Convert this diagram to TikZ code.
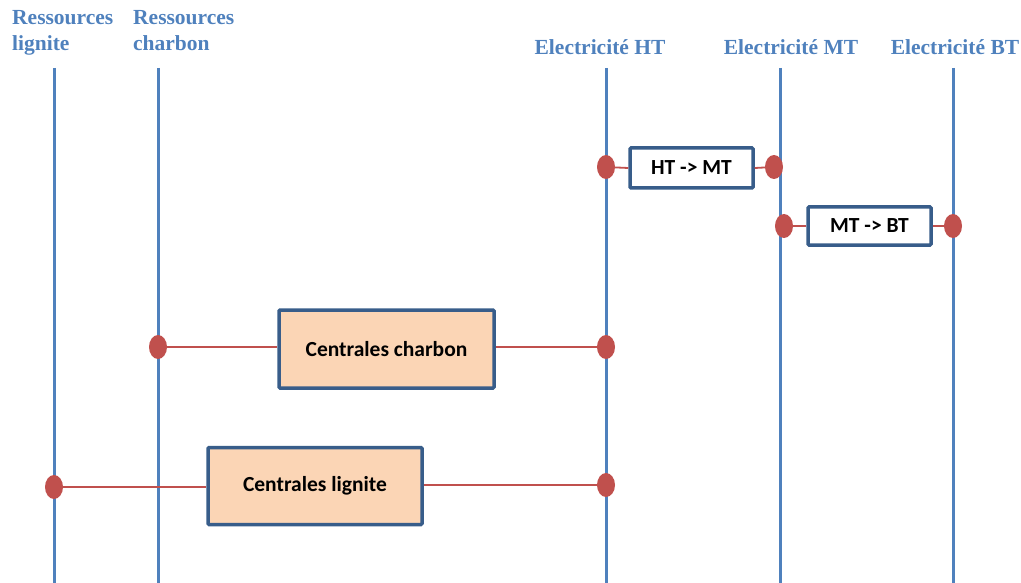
\documentclass[tikz,border=0pt]{standalone}
\usepackage{fontspec}
\setmainfont{Liberation Serif}
\newfontfamily\boxfont{Carlito}
\usetikzlibrary{positioning, shapes.geometric}
\definecolor{busblue}{HTML}{4F81BD}
\definecolor{framblue}{HTML}{385D8A}
\definecolor{dotred}{HTML}{C0504D}
\definecolor{peach}{HTML}{FBD5B5}
\tikzset{
    bus/.style={busblue, line width=3pt},
    link/.style={dotred, line width=1.8pt},
    joint/.style={ellipse, fill=dotred, minimum width=18pt, minimum height=24pt, inner sep=0pt},
    buslabel/.style={busblue, font=\bfseries\fontsize{21.5}{26}\selectfont, align=left, inner sep=0pt},
    unit/.style={draw=framblue, line width=3.5pt, font=\boxfont\bfseries\fontsize{21.5}{23}\selectfont, rounded corners=1pt}
}
\newcommand{\joint}[3]{
    \node[joint] (#3) at (#1, #2) {};
}

\begin{document}
\begin{tikzpicture}[x=1pt, y=-1pt]
	\useasboundingbox (0,0) rectangle (1021,583);

	% bus lines
	\draw[bus] (54,68) coordinate(lig top) -- (54,583) coordinate(lig bottom);
	\draw[bus] (158,68) coordinate(cha top) -- (158,583) coordinate(cha bottom);
	\draw[bus] (606,68) coordinate(ht top) -- (606,583) coordinate(ht bottom);
	\draw[bus] (780,68) coordinate(mt top) -- (780,583) coordinate(mt bottom);
	\draw[bus] (953,68) coordinate(bt top) -- (953,583) coordinate(bt bottom);

	\node[buslabel, anchor=north west] (lig label) at (12,10) {Ressources\\lignite};
	\node[buslabel, anchor=north west] (cha label) at (133,10) {Ressources\\charbon};
	\node[buslabel] (ht label) at (600,47) {Electricité HT};
	\node[buslabel] (mt label) at (791,47) {Electricité MT};
	\node[buslabel] (bt label) at (955,47) {Electricité BT};

	% transformers
	\node[unit, fill=white, minimum width=123pt, minimum height=40pt] (htmt) at (691.5,168) {HT -> MT};
	\node[unit, fill=white, minimum width=123pt, minimum height=38pt] (mtbt) at (869.5,226) {MT -> BT};

	% plants
	\node[unit, fill=peach, minimum width=215pt, minimum height=78pt] (charbon) at (386.5,349) {Centrales charbon};
	\node[unit, fill=peach, minimum width=214pt, minimum height=77pt] (lignite) at (315,486) {Centrales lignite};

	\joint{606}{167}{htmt in};
	\joint{774}{167}{htmt out};
	\joint{784}{226}{mtbt in};
	\joint{953}{226}{mtbt out};
	\joint{158}{347}{charbon in};
	\joint{606}{347}{charbon out};
	\joint{54}{487}{lignite in};
	\joint{606}{485}{lignite out};

	\draw[link] (htmt in) -- (htmt.west);
	\draw[link] (htmt.east) -- (htmt out);
	\draw[link] (mtbt in) -- (mtbt.west);
	\draw[link] (mtbt.east) -- (mtbt out);
	\draw[link] (charbon in) -- (charbon.west |- charbon in);
	\draw[link] (charbon.east |- charbon out) -- (charbon out);
	\draw[link] (lignite in) -- (lignite.west |- lignite in);
	\draw[link] (lignite.east |- lignite out) -- (lignite out);
\end{tikzpicture}
\end{document}
